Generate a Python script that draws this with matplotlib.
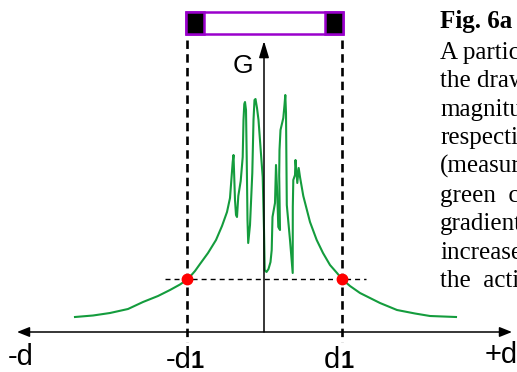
import matplotlib
matplotlib.use("Agg")
import matplotlib.pyplot as plt
from matplotlib.patches import Rectangle

# curve: offset from centre, G value (same units as pixels)
curve_x = [-189, -171, -154, -136, -121, -106, -94, -84, -76, -69, -64, -56, -48, -42, -37, -34,
           -31.3, -30.5, -29, -28, -27, -25.7, -23.3, -21.3, -20.5, -19.7, -19, -18, -17.3, -16.5,
           -15.8, -14, -11.7, -10.5, -9.5, -8.5, -7, -5.5, -3.3, -1.3, 0, 0.7, 2.5, 4.5, 6.5, 7.7,
           8.5, 11, 12, 13.3, 14.3, 16, 15.2, 15.5, 16.5, 19.3, 20.5, 21.3, 22, 22.8, 26, 28.7,
           28.8, 29.3, 31, 31.5, 32.3, 33.3, 34.7, 36, 39.3, 46, 52.7, 59, 66, 73, 78, 86, 96,
           116, 133, 151, 166, 192]
curve_g = [15, 16.5, 19, 23, 30, 36, 42, 47.5, 53, 61, 68, 79, 92, 106, 120, 134,
           170, 177, 132, 117, 115, 136, 151, 175, 212, 228, 230, 222, 175, 112,
           89, 107, 159, 212, 232, 233, 224, 212, 182, 155, 102, 62, 60, 63, 70, 82,
           115, 129, 167, 137, 105, 102, 157, 182, 202, 214, 227, 237, 219, 127, 92, 59,
           125, 152, 157, 172, 162, 149, 164, 155, 136, 110, 92, 79, 67, 59, 53, 46, 39,
           29, 22, 18.5, 16, 15]

d1_pos = [-77, 78]
g_level = 53
axis_ends = [-247, 248]
g_top = 291

text_lines = ["A particular", "the drawing", "magnitude", "respective", "(measured",
              "green  curve", "gradient", "increases", "the  action"]

fig = plt.figure(figsize=(5.17, 3.72), dpi=100)
ax = fig.add_axes([0, 0, 1, 1])
ax.set_xlim(-264, 253)
ax.set_ylim(-40, 332)
ax.axis("off")

# axes with arrows
ax.annotate("", xy=(axis_ends[1], 0), xytext=(axis_ends[0], 0),
            arrowprops=dict(arrowstyle="<|-|>,head_length=0.75,head_width=0.3",
                            lw=1.1, color="black", shrinkA=0, shrinkB=0))
ax.annotate("", xy=(0, g_top), xytext=(0, 0),
            arrowprops=dict(arrowstyle="-|>,head_length=1.0,head_width=0.3",
                            lw=1.1, color="black", shrinkA=0, shrinkB=0))

# dashed guides
for xp in d1_pos:
    ax.plot([xp, xp], [292, -10], color="black", lw=1.9, linestyle=(0, (3.2, 2.0)))
ax.plot([-99, 102], [g_level, g_level], color="black", lw=1.0, linestyle=(0, (3.6, 2.9)))

ax.plot(curve_x, curve_g, color="#149c3d", lw=1.5, solid_joinstyle="round")
ax.plot(d1_pos, [g_level, g_level], "o", color="#ff0000", ms=7.5, zorder=5)

# bar on top
purple = "#9a00cc"
ax.add_patch(Rectangle((-78, 298), 157, 22, facecolor="white", edgecolor=purple, lw=1.8))
ax.add_patch(Rectangle((-78, 298), 18, 22, facecolor="black", edgecolor=purple, lw=1.8))
ax.add_patch(Rectangle((61, 298), 18, 22, facecolor="black", edgecolor=purple, lw=1.8))

sans = "Liberation Sans"
ax.text(-21, 259, "G", fontsize=19, family=sans, ha="center", va="baseline")
ax.text(-256, -33, "-d", fontsize=21, family=sans, ha="left", va="baseline")
ax.text(221, -31, "+d", fontsize=21, family=sans, ha="left", va="baseline")
ax.text(-98, -36, "-d", fontsize=21, family=sans, ha="left", va="baseline")
ax.text(-73, -36, "1", fontsize=17, family=sans, weight="bold", ha="left", va="baseline")
ax.text(60, -36, "d", fontsize=21, family=sans, ha="left", va="baseline")
ax.text(76, -36, "1", fontsize=17, family=sans, weight="bold", ha="left", va="baseline")

serif = "Liberation Serif"
ax.text(176, 304, "Fig. 6a", fontsize=18, family=serif, weight="bold", ha="left", va="baseline")
for i, line in enumerate(text_lines):
    ax.text(176, 302 - 28.6 * (i + 1), line, fontsize=18, family=serif,
            ha="left", va="baseline")

fig.savefig("out.png", dpi=100)
